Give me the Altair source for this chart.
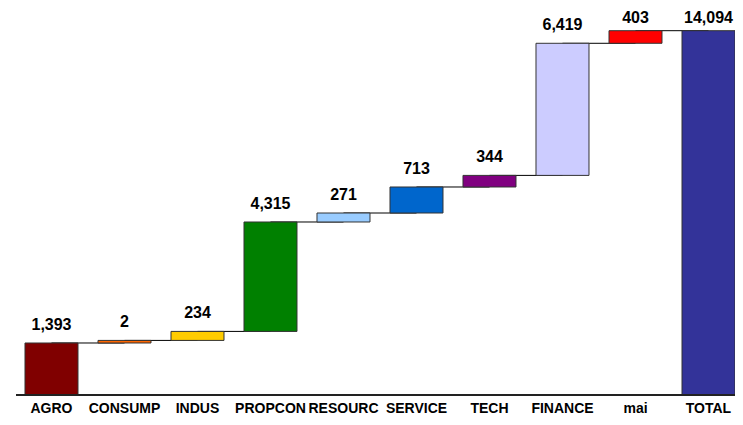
import altair as alt
import pandas as pd

# Categories, in drawing order
categories = ["AGRO", "CONSUMP", "INDUS", "PROPCON", "RESOURC", "SERVICE",
              "TECH", "FINANCE", "mai", "TOTAL"]
# Step heights as drawn in the picture (scale: TOTAL bar = 14,094)
step_amounts = [2012, 100, 348, 4233, 348, 1006, 449, 5111, 487]
total_amount = 14094
# Printed value labels
value_labels = ["1,393", "2", "234", "4,315", "271", "713", "344",
                "6,419", "403", "14,094"]
bar_colors = ["#800000", "#FF6600", "#FFCC00", "#008000", "#99CCFF",
              "#0066CC", "#800080", "#CCCCFF", "#FF0000", "#333399"]

starts, ends = [], []
level = 0
for a in step_amounts:
    starts.append(level)
    level += a
    ends.append(level)
starts.append(0)
ends.append(total_amount)

bars = pd.DataFrame({
    "cat": categories,
    "start": starts,
    "end": ends,
    "label": value_labels,
    "color": bar_colors,
})

links = pd.DataFrame({
    "cat": categories[:-1],
    "next": categories[1:],
    "level": ends[:-1],
})

FONT = "Liberation Sans"
W, H = 727, 387

x_scale = alt.Scale(domain=categories, paddingInner=0.274,
                    paddingOuter=0.1164, align=1.0)
y_scale = alt.Scale(domain=[0, 14972], nice=False, zero=True)

x_axis = alt.Axis(title=None, labelAngle=0, ticks=False, domain=False,
                  labelFont=FONT, labelFontSize=14,
                  labelFontWeight="bold", labelColor="black", labelPadding=6,
                  labelOverlap=False, grid=False)

rules = alt.Chart(links).mark_rule(color="black", strokeWidth=1).encode(
    x=alt.X("cat:N", scale=x_scale, axis=x_axis),
    x2="next:N",
    y=alt.Y("level:Q", scale=y_scale, axis=None),
)

bar_layer = alt.Chart(bars).mark_bar(stroke="#333333", strokeWidth=1).encode(
    x=alt.X("cat:N", scale=x_scale, axis=x_axis),
    y=alt.Y("start:Q", scale=y_scale, axis=None),
    y2="end:Q",
    color=alt.Color("color:N", scale=None),
)

baseline = alt.Chart(bars).mark_rule(color="#222222", strokeWidth=2).encode(
    x=alt.value(8), x2=alt.value(W),
    y=alt.Y("zero:Q", scale=y_scale, axis=None),
).transform_calculate(zero="0").transform_filter(alt.datum.cat == "TOTAL")

text_layer = alt.Chart(bars).mark_text(
    font=FONT, fontSize=16, fontWeight="bold", color="black",
    align="center", baseline="alphabetic", dy=-13
).encode(
    x=alt.X("cat:N", scale=x_scale, axis=x_axis),
    y=alt.Y("ly:Q", scale=y_scale, axis=None),
    text="label:N",
).transform_calculate(ly="min(datum.end, 13870)")

chart = alt.layer(rules, bar_layer, baseline, text_layer).properties(
    width=W, height=H,
    padding={"left": 0, "top": 0, "right": 0, "bottom": 22},
    autosize=alt.AutoSizeParams(type="none"),
    background="white",
).configure_view(stroke=None)

chart.save("out.html", embed_options={"renderer": "svg", "actions": False})
